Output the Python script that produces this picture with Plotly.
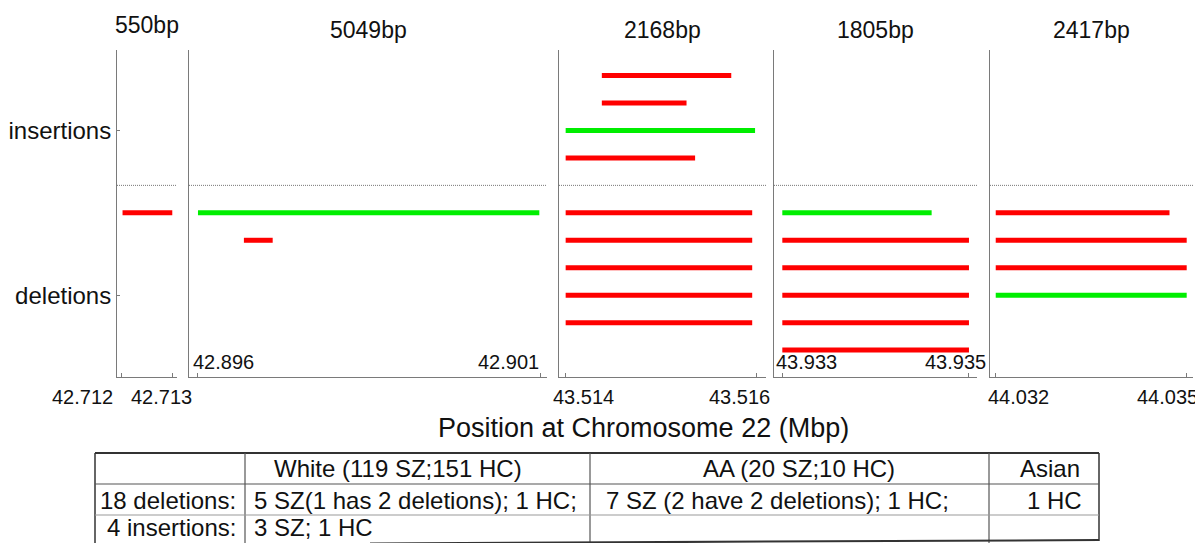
import plotly.graph_objects as go

# target picture size and page offset (the HTML body has an 8px margin)
W, H = 1203, 543
OFF = 8
FW, FH = W - OFF, H - OFF

# ---------------- data ----------------
panel_titles = ["550bp", "5049bp", "2168bp", "1805bp", "2417bp"]
tick_values = [[42.712, 42.713], [42.896, 42.901], [43.514, 43.516],
               [43.933, 43.935], [44.032, 44.035]]
tick_labels = [["42.712", "42.713"], ["42.896", "42.901"], ["43.514", "43.516"],
               ["43.933", "43.935"], ["44.032", "44.035"]]

row_labels = ["insertions", "deletions"]
row_label_pos = [2, 8]
separator_row = 4

# one entry per variant segment (panel, row, start Mbp, end Mbp, group)
seg_panel = [0,
             1, 1,
             2, 2, 2, 2, 2, 2, 2, 2, 2,
             3, 3, 3, 3, 3, 3,
             4, 4, 4, 4]
seg_row = [5,
           5, 6,
           0, 1, 2, 3, 5, 6, 7, 8, 9,
           5, 6, 7, 8, 9, 10,
           5, 6, 7, 8]
seg_start = [42.71203,
             42.89601, 42.89668,
             43.51438, 43.51438, 43.51400, 43.51400, 43.51400, 43.51400, 43.51400, 43.51400, 43.51400,
             43.93300, 43.93300, 43.93300, 43.93300, 43.93300, 43.93300,
             44.03200, 44.03200, 44.03200, 44.03200]
seg_end = [42.71300,
           42.90099, 42.89710,
           43.51574, 43.51527, 43.51599, 43.51536, 43.51596, 43.51596, 43.51596, 43.51596, 43.51596,
           43.93460, 43.93500, 43.93500, 43.93500, 43.93500, 43.93500,
           44.03473, 44.03500, 44.03500, 44.03500]
seg_group = ["SZ",
             "HC", "SZ",
             "SZ", "SZ", "HC", "SZ", "SZ", "SZ", "SZ", "SZ", "SZ",
             "HC", "SZ", "SZ", "SZ", "SZ", "SZ",
             "SZ", "SZ", "SZ", "HC"]

x_title = "Position at Chromosome 22 (Mbp)"

table_header = ["", "White (119 SZ;151 HC)", "AA (20 SZ;10 HC)", "Asian"]
table_row1 = ["18 deletions:", "5 SZ(1 has 2 deletions); 1 HC;", "7 SZ (2 have 2 deletions); 1 HC;", "1 HC"]
table_row2 = ["4 insertions:", "3 SZ; 1 HC", "", ""]

# ---------------- style / layout ----------------
group_colors = {"SZ": "#ff0000", "HC": "#00ee00"}
FONT = "Liberation Sans, Arial, sans-serif"
AXC = "#7a7a7a"

panel_px = [(117, 177), (189, 547), (559, 766), (774, 977), (990, 1193)]
x_ranges = [[42.711922, 42.713092], [42.895879, 42.901102], [43.51393, 43.516105],
            [43.932911, 43.935086], [44.03191, 44.035099]]
y_range = [10.98, -0.93]
y_top_px, y_bot_px = 50, 377
label_shift = [[-39, -11], [26, -32], [18, -17], [24, -13], [23, -19]]
label_inside = [False, True, False, True, False]


def px(x):
    return (x - OFF) / FW


def py(y):
    return 1 - (y - OFF) / FH


def xname(n):
    return "x" if n == 1 else f"x{n}"


def yname(n):
    return "y" if n == 1 else f"y{n}"


fig = go.Figure()

for p in range(5):
    for g in ["SZ", "HC"]:
        xs, ys = [], []
        for i in range(len(seg_panel)):
            if seg_panel[i] == p and seg_group[i] == g:
                xs += [seg_start[i], seg_end[i], None]
                ys += [seg_row[i], seg_row[i], None]
        if xs:
            fig.add_trace(go.Scatter(
                x=xs, y=ys, mode="lines",
                line=dict(color=group_colors[g], width=5),
                xaxis=xname(p + 1), yaxis=yname(p + 1),
                showlegend=False, hoverinfo="skip"))

layout = dict(
    width=FW, height=FH, autosize=False,
    margin=dict(l=0, r=0, t=0, b=0, pad=0),
    paper_bgcolor="white", plot_bgcolor="white",
    font=dict(family=FONT, color="#111"),
    showlegend=False,
)

ydom = [py(y_bot_px), py(y_top_px)]
annotations = []
shapes = []
for p in range(5):
    n = p + 1
    x0, x1 = panel_px[p]
    layout["xaxis" if n == 1 else f"xaxis{n}"] = dict(
        domain=[px(x0), px(x1)], range=x_ranges[p], anchor=yname(n),
        showline=True, linecolor=AXC, linewidth=1,
        ticks="inside", ticklen=4, tickcolor=AXC, tickwidth=1,
        tickvals=tick_values[p], showticklabels=False,
        showgrid=False, zeroline=False, fixedrange=True)
    yax = dict(
        domain=ydom, range=y_range, anchor=xname(n),
        showline=True, linecolor=AXC, linewidth=1,
        showgrid=False, zeroline=False, fixedrange=True)
    if n == 1:
        yax.update(tickvals=row_label_pos, ticktext=row_labels,
                   ticks="inside", ticklen=3, tickcolor=AXC,
                   tickfont=dict(size=24, family=FONT, color="#111"))
    else:
        yax.update(showticklabels=False, ticks="")
    layout["yaxis" if n == 1 else f"yaxis{n}"] = yax

    # separator between insertions and deletions
    shapes.append(dict(type="line", xref=f"{xname(n)} domain", yref=yname(n),
                       x0=0, x1=1, y0=separator_row, y1=separator_row,
                       line=dict(color="#777", width=1, dash="1px,1px")))

    # panel title
    annotations.append(dict(text=panel_titles[p], xref=f"{xname(n)} domain", yref="paper",
                            x=0.5, y=py(25 if p == 0 else 30), xanchor="center",
                            yanchor="middle", showarrow=False,
                            font=dict(size=23, family=FONT, color="#111")))
    # tick labels
    for k in range(2):
        annotations.append(dict(text=tick_labels[p][k], xref=xname(n), yref="paper",
                                x=tick_values[p][k], xshift=label_shift[p][k],
                                y=py(362 if label_inside[p] else 397),
                                xanchor="center", yanchor="middle", showarrow=False,
                                font=dict(size=20, family=FONT, color="#111")))

annotations.append(dict(text=x_title, xref="paper", yref="paper", x=px(643), y=py(428),
                        xanchor="center", yanchor="middle", showarrow=False,
                        font=dict(size=27, family=FONT, color="#111")))

# ---------------- table ----------------
TC = "#333"
tbl_l, tbl_r = 95, 1099
tbl_top = 453
col_x = [245, 590, 989]
row_y = [484, 515]


def seg(xa, ya, xb, yb, color=TC, width=1.5):
    shapes.append(dict(type="line", xref="paper", yref="paper",
                       x0=px(xa), y0=py(ya), x1=px(xb), y1=py(yb),
                       line=dict(color=color, width=width)))


seg(tbl_l, tbl_top, tbl_r, tbl_top, width=2)
seg(tbl_l, tbl_top, tbl_l, 543)
seg(tbl_r, tbl_top, tbl_r, 541)
for cx in col_x:
    seg(cx, tbl_top, cx, 543, color="#555", width=1.2)
seg(tbl_l, row_y[0], tbl_r, row_y[0], color="#555", width=1.2)
seg(tbl_l, row_y[1], tbl_r, row_y[1], color="#999", width=1.2)
seg(370, 543.5, tbl_r, 540, width=2)

TFS = 24
head_cx = [None, 398, 799, 1050]
for j in range(1, 4):
    annotations.append(dict(text=table_header[j], xref="paper", yref="paper",
                            x=px(head_cx[j]), y=py(468), xanchor="center", yanchor="middle",
                            showarrow=False, font=dict(size=TFS, family=FONT, color="#111")))

row_specs = [(table_row1, 500), (table_row2, 527)]
for rowtxt, yy in row_specs:
    annotations.append(dict(text=rowtxt[0], xref="paper", yref="paper", x=px(238), y=py(yy),
                            xanchor="right", yanchor="middle", showarrow=False,
                            font=dict(size=TFS, family=FONT, color="#111")))
    annotations.append(dict(text=rowtxt[1], xref="paper", yref="paper", x=px(252), y=py(yy),
                            xanchor="left", yanchor="middle", showarrow=False,
                            font=dict(size=TFS, family=FONT, color="#111")))
    if rowtxt[2]:
        annotations.append(dict(text=rowtxt[2], xref="paper", yref="paper", x=px(604), y=py(yy),
                                xanchor="left", yanchor="middle", showarrow=False,
                                font=dict(size=TFS, family=FONT, color="#111")))
    if rowtxt[3]:
        annotations.append(dict(text=rowtxt[3], xref="paper", yref="paper", x=px(1054), y=py(yy),
                                xanchor="center", yanchor="middle", showarrow=False,
                                font=dict(size=TFS, family=FONT, color="#111")))

layout["annotations"] = annotations
layout["shapes"] = shapes
fig.update_layout(**layout)

fig.write_html("out.html", config={"displayModeBar": False})
